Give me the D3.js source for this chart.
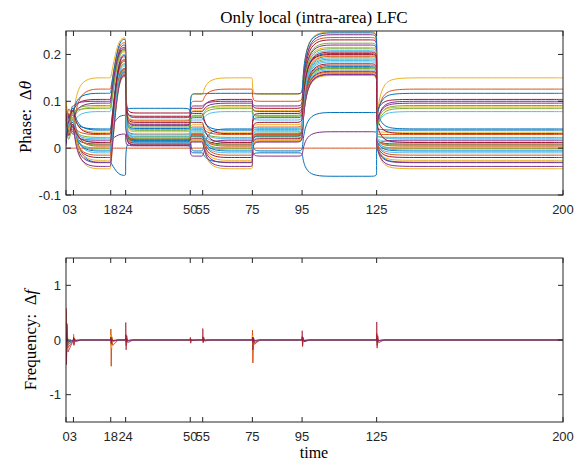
<!DOCTYPE html>
<meta charset="utf-8">
<style>
  body { margin: 0; padding: 0; background: #fff; }
  svg { display: block; }
  .tick-label { font-family: 'Liberation Sans', Arial, sans-serif; font-size: 13px; fill: #262626; }
  .lab { font-family: 'Liberation Serif', 'Times New Roman', serif; fill: #000; }
  .frame { fill: none; stroke: #262626; stroke-width: 1; }
  .tickmark { stroke: #262626; stroke-width: 1; }
</style>
<body>
<div id="chart"></div>
<script src="https://d3js.org/d3.v7.min.js"></script>
<script>
// MATLAB default line colour order
var colors = ['#0072BD', '#D95319', '#EDB120', '#7E2F8E', '#77AC30', '#4DBEEE', '#A2142F'];

var xTicks = [0, 3, 18, 24, 50, 55, 75, 95, 125, 200];
var phaseTicks = [-0.1, 0, 0.1, 0.2];
var freqTicks = [-1, 0, 1];

// phase, first 3 s (values at t = 0, 1, 2)
var chaosAt0 = [0.08, 0, 0.1, 0.02, 0.06, 0.04, 0.07, 0.09, 0.05, 0.03, 0.085, 0.01, 0.065, 0.045, 0.075, 0.035, 0.095, 0.015, 0.055, 0.025, 0.07, 0.08, 0.04, 0.06, 0.02, 0.05, 0.03, 0.09, 0.01, 0.045, 0.1, 0.005, 0.065, 0.035, 0.075];
var chaosAt1 = [0.03, 0, 0.06, 0.09, 0.02, 0.08, 0.04, 0.05, 0.07, 0.085, 0.01, 0.075, 0.035, 0.09, 0.02, 0.065, 0.045, 0.08, 0.005, 0.06, 0.03, 0.055, 0.07, 0.015, 0.085, 0.025, 0.075, 0.04, 0.06, 0.095, 0.02, 0.07, 0.035, 0.05, 0.01];
var chaosAt2 = [0.085, 0, 0.07, 0.03, 0.075, 0.05, 0.08, 0.065, 0.04, 0.06, 0.09, 0.045, 0.07, 0.035, 0.08, 0.05, 0.075, 0.06, 0.04, 0.07, 0.055, 0.085, 0.045, 0.065, 0.05, 0.06, 0.04, 0.08, 0.055, 0.07, 0.065, 0.045, 0.075, 0.06, 0.05];

// settled phase levels of each line in the different periods
var levelA = [-0.03, 0, 0.150, 0.017, 0.091, 0.078, 0.104, 0.041, 0.126, 0.088, 0.100, 0.023, 0.013, 0.0086, 0.117, 0.029, 0.034, 0.096, 0.0, -0.010, -0.020, 0.0385, -0.015, -0.026, -0.031, 0.0065, 0.020, 0.031, -0.006, 0.0043, -0.044, -0.039, 0.085, -0.004, 0.012];
var levelB = [-0.058, 0, 0.235, 0.03, 0.21, 0.20, 0.215, 0.07, 0.225, 0.205, 0.22, 0.18, 0.175, 0.17, 0.232, 0.185, 0.19, 0.212, 0.165, 0.16, 0.158, 0.195, 0.162, 0.156, 0.155, 0.168, 0.178, 0.188, 0.163, 0.167, 0.152, 0.154, 0.208, 0.164, 0.198];
var levelC = [0.012, 0, 0.06, 0.005, 0.045, 0.04, 0.075, 0.085, 0.058, 0.052, 0.048, 0.025, 0.022, 0.018, 0.065, 0.03, 0.035, 0.05, 0.015, 0.012, 0.01, 0.042, 0.014, 0.008, 0.006, 0.02, 0.028, 0.068, 0.016, 0.019, 0.009, 0.007, 0.038, 0.024, 0.055];
var levelD = [-0.01, 0, 0.115, -0.017, 0.07, 0.06, 0.085, -0.006, 0.1, 0.08, 0.09, 0.04, 0.035, 0.03, 0.116, 0.045, 0.05, 0.078, 0.025, 0.022, 0.02, 0.065, 0.028, 0.018, 0.015, 0.032, 0.042, 0.074, 0.026, 0.03, 0.016, 0.013, 0.068, 0.038, 0.055];
var levelE = [-0.06, 0, 0.248, 0.035, 0.224, 0.208, 0.231, 0.076, 0.236, 0.215, 0.242, 0.19, 0.184, 0.18, 0.246, 0.196, 0.198, 0.22, 0.17, 0.167, 0.164, 0.202, 0.162, 0.16, 0.158, 0.172, 0.193, 0.2, 0.174, 0.177, 0.155, 0.157, 0.212, 0.187, 0.205];

var segments = [
    {from: 3, to: 18, level: levelA, knee: 2, tau: 12},
    {from: 18, to: 24, level: levelB, knee: 3},
    {from: 24, to: 50, level: levelC, knee: 0, tau: 2},
    {from: 50, to: 55, level: levelD, knee: 0, tau: 1.5},
    {from: 55, to: 75, level: levelA, knee: 2, tau: 12},
    {from: 75, to: 95, level: levelD, knee: 0, tau: 2.5},
    {from: 95, to: 125, level: levelE, knee: 1.5, tau: 12},
    {from: 125, to: 200, level: levelA, jump: levelC, knee: 2, tau: 12}
];

// frequency spikes at each event, one row per colour
var freqEvents = [0, 3, 18, 24, 50, 55, 75, 95, 125];
var freqUp = [
    [0.30, 0.04, 0.10, 0.08, 0.02, 0.04, 0.15, 0.06, 0.08],
    [0.35, 0.10, 0.20, 0.10, 0.05, 0.06, 0.18, 0.06, 0.12],
    [0.52, 0.08, 0.10, 0.06, 0.02, 0.04, 0.08, 0.05, 0.06],
    [0.15, 0.03, 0.05, 0.04, 0.01, 0.02, 0.05, 0.03, 0.04],
    [0.12, 0.03, 0.04, 0.03, 0.01, 0.02, 0.04, 0.03, 0.04],
    [0.10, 0.02, 0.04, 0.03, 0.01, 0.02, 0.04, 0.02, 0.03],
    [0.58, 0.06, 0.05, 0.32, 0.03, 0.21, 0.05, 0.17, 0.33]
];
var freqDown = [
    [-0.22, -0.03, -0.05, -0.04, -0.01, -0.02, -0.06, -0.04, -0.05],
    [-0.33, -0.08, -0.48, -0.10, -0.03, -0.04, -0.42, -0.12, -0.10],
    [-0.20, -0.05, -0.15, -0.05, -0.02, -0.02, -0.10, -0.04, -0.05],
    [-0.10, -0.02, -0.04, -0.03, -0.01, -0.01, -0.04, -0.02, -0.03],
    [-0.10, -0.02, -0.04, -0.03, -0.01, -0.01, -0.04, -0.02, -0.03],
    [-0.08, -0.02, -0.03, -0.02, -0.01, -0.01, -0.03, -0.02, -0.02],
    [-0.45, -0.10, -0.08, -0.18, -0.06, -0.05, -0.18, -0.10, -0.15]
];
var freqTail = [
    [0.10, 0.01, 0.03, 0.02, 0.01, 0.01, 0.03, 0.02, 0.02],
    [0.15, 0.02, 0.06, 0.03, 0.01, 0.01, 0.05, 0.02, 0.03],
    [0.25, 0.02, 0.04, 0.02, 0.01, 0.01, 0.03, 0.02, 0.02],
    [0.05, 0.01, 0.02, 0.01, 0.0, 0.01, 0.02, 0.01, 0.01],
    [0.04, 0.01, 0.02, 0.01, 0.0, 0.01, 0.02, 0.01, 0.01],
    [0.03, 0.01, 0.01, 0.01, 0.0, 0.0, 0.01, 0.01, 0.01],
    [0.30, 0.03, 0.02, 0.08, 0.01, 0.05, 0.04, 0.05, 0.08]
];
var freqTail2 = [
    [-0.08, -0.01, -0.02, -0.01, 0.0, -0.01, -0.02, -0.01, -0.01],
    [-0.14, -0.02, -0.10, -0.02, -0.01, -0.01, -0.08, -0.03, -0.02],
    [-0.06, -0.01, -0.03, -0.01, 0.0, -0.01, -0.02, -0.01, -0.01],
    [-0.04, -0.01, -0.01, -0.01, 0.0, 0.0, -0.01, -0.01, -0.01],
    [-0.03, -0.01, -0.01, -0.01, 0.0, 0.0, -0.01, -0.01, -0.01],
    [-0.02, 0.0, -0.01, -0.01, 0.0, 0.0, -0.01, 0.0, -0.01],
    [-0.22, -0.03, -0.02, -0.05, -0.01, -0.02, -0.05, -0.03, -0.05]
];
var freqOrder = [0, 1, 2, 4, 5, 3, 6];

var width = 579, height = 461;
var left = 66, right = 563;

var x = d3.scaleLinear().domain([0, 200]).range([left, right]);
var yPhase = d3.scaleLinear().domain([-0.1, 0.25]).range([195, 31]);
var yFreq = d3.scaleLinear().domain([-1.5, 1.5]).range([422, 258]);

var svg = d3.select("#chart").append("svg")
    .attr("width", width)
    .attr("height", height);

function phasePoints(i) {
    var pts = [[0, chaosAt0[i]], [1, chaosAt1[i]], [2, chaosAt2[i]], [2.99, chaosAt2[i]], [3, chaosAt2[i]]];
    segments.forEach(function(s) {
        var L = s.level[i];
        if (s.jump) {
            pts.push([s.from, s.jump[i]], [s.from, s.jump[i]]);
        }
        pts.push([s.from + s.knee, L]);
        if (s.tau && s.from + s.tau < s.to - 0.05) pts.push([s.from + s.tau, L]);
        pts.push([s.to - 0.01, L], [s.to, L]);
    });
    return pts;
}

function freqPoints(c) {
    var pts = [[0, 0]];
    freqEvents.forEach(function(t, e) {
        pts.push([t, 0], [t + 0.05, freqUp[c][e]], [t + 0.2, freqDown[c][e]],
            [t + 0.45, freqTail[c][e]], [t + 0.8, freqTail2[c][e]], [t + 3, 0]);
    });
    pts.push([200, 0]);
    return pts;
}

function drawAxes(y, yTicks, top, bottom, fmt) {
    var g = svg.append("g");
    xTicks.forEach(function(t) {
        g.append("line").attr("class", "tickmark")
            .attr("x1", x(t)).attr("x2", x(t)).attr("y1", bottom).attr("y2", bottom - 5);
        g.append("line").attr("class", "tickmark")
            .attr("x1", x(t)).attr("x2", x(t)).attr("y1", top).attr("y2", top + 5);
        g.append("text").attr("class", "tick-label")
            .attr("x", x(t)).attr("y", bottom + 19)
            .attr("text-anchor", "middle")
            .text(t);
    });
    yTicks.forEach(function(v) {
        g.append("line").attr("class", "tickmark")
            .attr("x1", left).attr("x2", left + 5).attr("y1", y(v)).attr("y2", y(v));
        g.append("line").attr("class", "tickmark")
            .attr("x1", right).attr("x2", right - 5).attr("y1", y(v)).attr("y2", y(v));
        g.append("text").attr("class", "tick-label")
            .attr("x", left - 5).attr("y", y(v)).attr("dy", "0.36em")
            .attr("text-anchor", "end")
            .text(fmt(v));
    });
    g.append("rect").attr("class", "frame")
        .attr("x", left).attr("y", top)
        .attr("width", right - left).attr("height", bottom - top);
}

// clip regions
var defs = svg.append("defs");
defs.append("clipPath").attr("id", "clipPhase").append("rect")
    .attr("x", left).attr("y", 31).attr("width", right - left).attr("height", 164);
defs.append("clipPath").attr("id", "clipFreq").append("rect")
    .attr("x", left).attr("y", 258).attr("width", right - left).attr("height", 164);

var phaseLine = d3.line()
    .x(function(d) { return x(d[0]); })
    .y(function(d) { return yPhase(d[1]); })
    .curve(d3.curveBasis);

var freqLine = d3.line()
    .x(function(d) { return x(d[0]); })
    .y(function(d) { return yFreq(d[1]); });

var phaseG = svg.append("g").attr("clip-path", "url(#clipPhase)");
d3.range(levelA.length).forEach(function(i) {
    phaseG.append("path")
        .attr("d", phaseLine(phasePoints(i)))
        .attr("fill", "none")
        .attr("stroke", colors[i % 7])
        .attr("stroke-width", 1);
});

var freqG = svg.append("g").attr("clip-path", "url(#clipFreq)");
freqOrder.forEach(function(c) {
    freqG.append("path")
        .attr("d", freqLine(freqPoints(c)))
        .attr("fill", "none")
        .attr("stroke", colors[c])
        .attr("stroke-width", 1)
        .attr("stroke-opacity", c === 6 ? 0.7 : 1);
});

drawAxes(yPhase, phaseTicks, 31, 195, function(v) { return v === 0 ? "0" : String(v); });
drawAxes(yFreq, freqTicks, 258, 422, function(v) { return String(v); });

// titles and labels
svg.append("text").attr("class", "lab")
    .attr("x", 314).attr("y", 23)
    .attr("text-anchor", "middle")
    .style("font-size", "17px")
    .text("Only local (intra-area) LFC");

var yl1 = svg.append("text").attr("class", "lab")
    .attr("transform", "translate(31,117) rotate(-90)")
    .attr("text-anchor", "middle")
    .style("font-size", "17px");
yl1.append("tspan").text("Phase:\u2002\u0394");
yl1.append("tspan").style("font-style", "italic").text("\u03B8");

var yl2 = svg.append("text").attr("class", "lab")
    .attr("transform", "translate(36,340) rotate(-90)")
    .attr("text-anchor", "middle")
    .style("font-size", "17px");
yl2.append("tspan").text("Frequency:\u2002\u0394");
yl2.append("tspan").style("font-style", "italic").text("f");

svg.append("text").attr("class", "lab")
    .attr("x", 314).attr("y", 458)
    .attr("text-anchor", "middle")
    .style("font-size", "16px")
    .text("time");
</script>
</body>
